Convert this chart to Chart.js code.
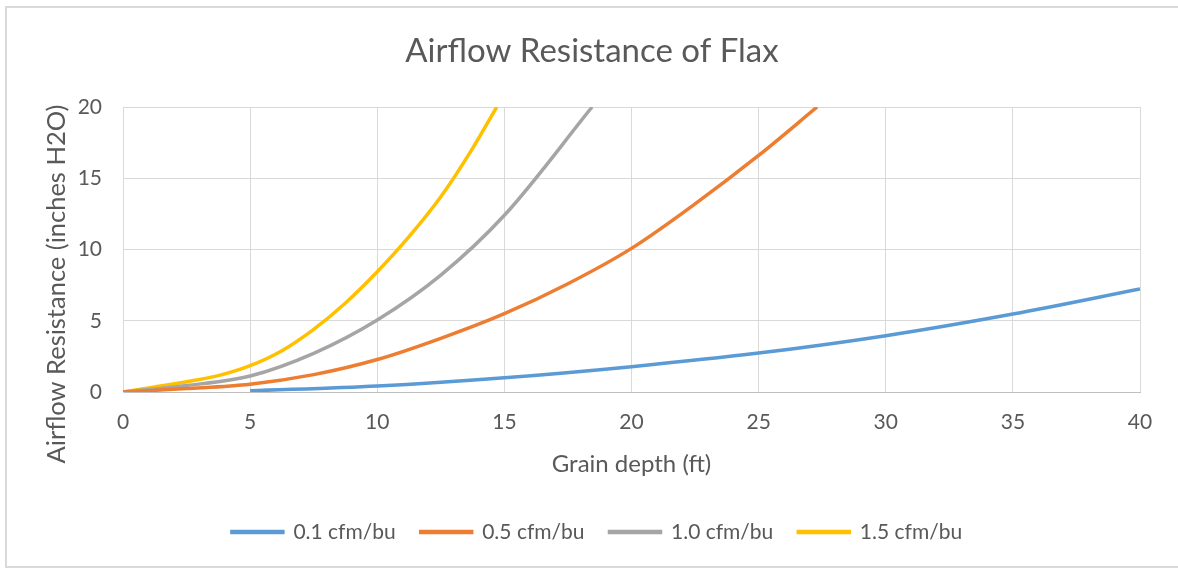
<!DOCTYPE html>
<html>
<head>
<meta charset="utf-8">
<script src="https://cdn.jsdelivr.net/npm/chart.js@4.4.1/dist/chart.umd.min.js"></script>
<style>
  html, body { margin: 0; padding: 0; background: #fff; overflow: hidden; }
  #wrap { position: relative; width: 1178px; height: 572px; }
  #frame { position: absolute; left: 5px; top: 6px; width: 1200px; height: 562px; border: 2px solid #d9d9d9; box-sizing: border-box; }
  canvas { position: absolute; left: 0; top: 0; }
</style>
</head>
<body>
<div id="wrap">
  <div id="frame"></div>
  <canvas id="flaxChart" width="1178" height="572"></canvas>
</div>
<script>
// Values (grain depth in ft, resistance in inches H2O)
const depth01 = [5, 10, 15, 20, 25, 30, 35, 40];
const res01 = [0.08, 0.42, 1.0, 1.78, 2.73, 3.95, 5.47, 7.23];

const depth05 = [0, 2.5, 5, 7.5, 10, 12.5, 15, 17.5, 20, 22.5, 25, 27.3];
const res05 = [0, 0.24, 0.55, 1.22, 2.28, 3.77, 5.5, 7.6, 10.08, 13.2, 16.6, 20];

const depth10 = [0, 2.5, 5, 7.5, 10, 12.5, 15, 18.45];
const res10 = [0, 0.45, 1.12, 2.71, 5.05, 8.2, 12.4, 20];

const depth15 = [0, 1.25, 2.5, 3.75, 5, 6.25, 7.5, 8.75, 10, 11.25, 12.5, 13.75, 14.7];
const res15 = [0, 0.36, 0.72, 1.15, 1.85, 2.9, 4.4, 6.25, 8.44, 10.9, 13.7, 17.1, 20];

const seriesLabels = ["0.1 cfm/bu", "0.5 cfm/bu", "1.0 cfm/bu", "1.5 cfm/bu"];
const seriesColors = ["#5B9BD5", "#ED7D31", "#A5A5A5", "#FFC000"];

const TEXT = "#595959";
const FONT = "Lato";
const Y_TITLE = "Airflow Resistance (inches H2O)";

function toPoints(xs, ys) {
  return xs.map((x, i) => ({ x: x, y: ys[i] }));
}

const allSeries = [
  toPoints(depth01, res01),
  toPoints(depth05, res05),
  toPoints(depth10, res10),
  toPoints(depth15, res15),
];

// y axis title sits lower than the plot centre in the original, so draw it here
const yTitlePlugin = {
  id: "yTitle",
  afterDraw(chart) {
    const ctx = chart.ctx;
    ctx.save();
    ctx.translate(57, 284);
    ctx.rotate(-Math.PI / 2);
    ctx.font = "25.5px " + FONT;
    ctx.fillStyle = TEXT;
    ctx.textAlign = "center";
    ctx.textBaseline = "middle";
    ctx.fillText(Y_TITLE, 0, 0);
    ctx.restore();
  },
};

// nudge title and legend to the right, like the original
const boxShift = {
  id: "boxShift",
  afterLayout(chart) {
    chart.legend.left += 27;
    chart.legend.right += 27;
    chart.titleBlock.left += 22;
    chart.titleBlock.right += 22;
  },
};

new Chart(document.getElementById("flaxChart"), {
  type: "line",
  data: {
    datasets: allSeries.map((pts, i) => ({
      label: seriesLabels[i],
      data: pts,
      borderColor: seriesColors[i],
      backgroundColor: seriesColors[i],
      borderWidth: 3.5,
      pointRadius: 0,
      cubicInterpolationMode: "monotone",
      fill: false,
    })),
  },
  options: {
    responsive: false,
    animation: false,
    layout: { padding: { left: 0, right: 38, top: 0, bottom: 19.5 } },
    plugins: {
      title: {
        display: true,
        text: "Airflow Resistance of Flax",
        color: TEXT,
        font: { family: FONT, size: 33, weight: "normal" },
        padding: { top: 32, bottom: 35.4 },
      },
      legend: {
        position: "bottom",
        labels: {
          color: TEXT,
          font: { family: FONT, size: 21 },
          boxWidth: 51,
          boxHeight: 1,
          padding: 25,
        },
      },
      tooltip: { enabled: false },
    },
    scales: {
      x: {
        type: "linear",
        min: 0,
        max: 40,
        ticks: { stepSize: 5, color: TEXT, font: { family: FONT, size: 21 }, padding: 18 },
        grid: { color: "#d9d9d9", drawTicks: false },
        border: { color: "#bfbfbf" },
        title: {
          display: true,
          text: "Grain depth (ft)",
          color: TEXT,
          font: { family: FONT, size: 24 },
          padding: { top: 0, bottom: 18 },
        },
        afterFit(scale) { scale.height = 104.5; },
      },
      y: {
        min: 0,
        max: 20,
        ticks: { stepSize: 5, color: TEXT, font: { family: FONT, size: 21 }, padding: 21 },
        grid: { color: "#d9d9d9", drawTicks: false },
        border: { color: "#d9d9d9" },
        afterFit(scale) { scale.width = 123; },
      },
    },
  },
  plugins: [yTitlePlugin, boxShift],
});
</script>
</body>
</html>
